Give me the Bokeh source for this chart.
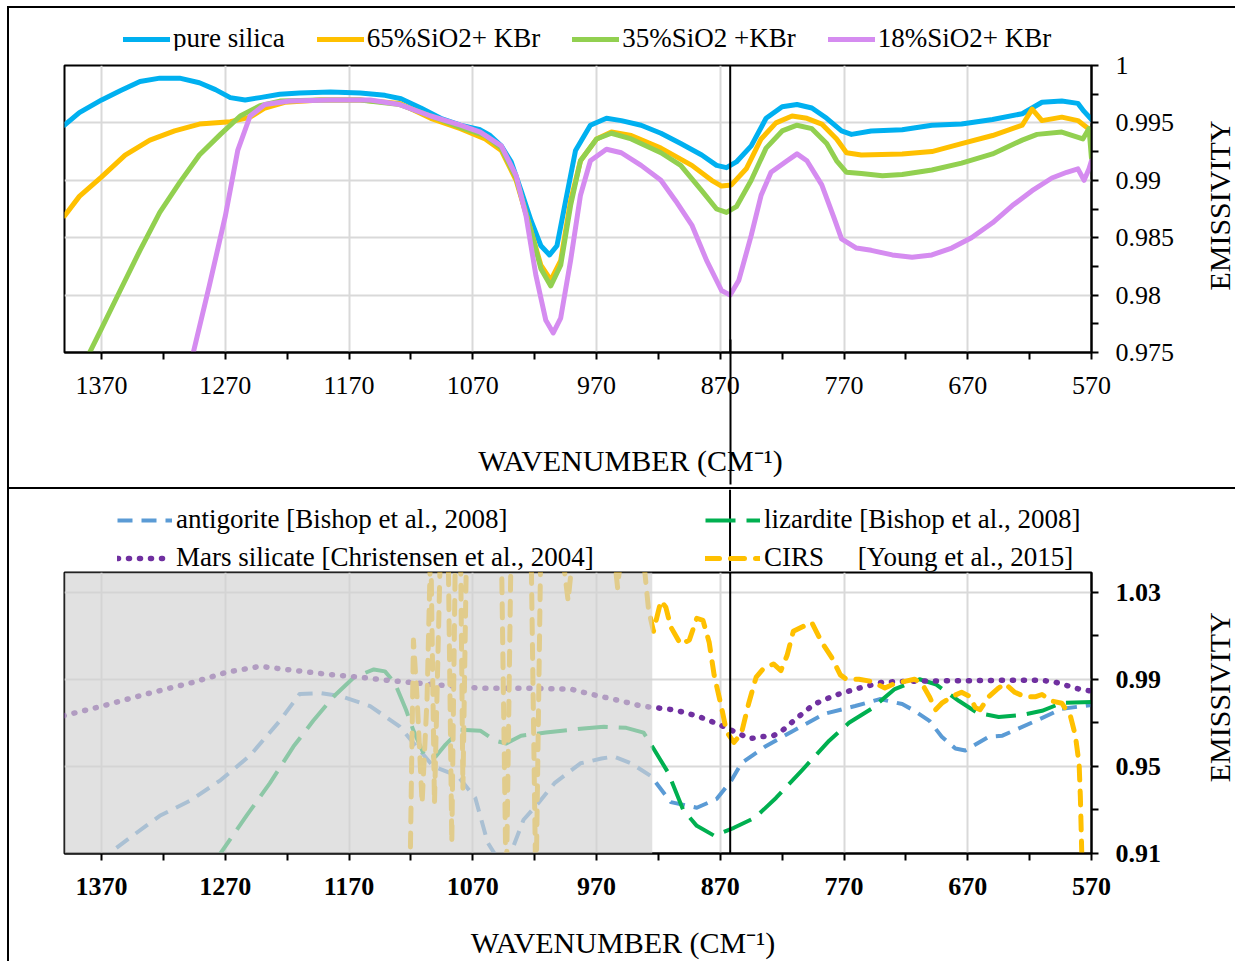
from bokeh.plotting import figure
from bokeh.models import (Range1d, FixedTicker, CustomJSTickFormatter, Legend, LegendItem,
                          Span, BoxAnnotation, LinearAxis, Label)
from bokeh.layouts import column, row
from bokeh.embed import file_html
from bokeh.resources import INLINE

FONT = "Liberation Serif"

# ---------------- axes / ticks ----------------
x_ticks = [1370, 1270, 1170, 1070, 970, 870, 770, 670, 570]
x_minor = [1320, 1220, 1120, 1020, 920, 820, 720, 620]
top_y_ticks = [0.975, 0.98, 0.985, 0.99, 0.995, 1.0]
top_y_minor = [0.9775, 0.9825, 0.9875, 0.9925, 0.9975]
bot_y_ticks = [0.91, 0.95, 0.99, 1.03]
bot_y_minor = [0.93, 0.97, 1.01]
X_START, X_END = 1400, 570
marker_wn = 862
shade_edge_wn = 925

# ---------------- top panel data ----------------
silica_wn = [1400,1388,1370,1355,1339,1323,1307,1291,1278,1266,1254,1242,1226,1210,1185,1161,1141,1128,1112,1096,
             1080,1064,1056,1047,1039,1031,1023,1015,1008,1002,995,987,975,962,950,934,918,902,885,873,
             865,857,845,833,820,808,796,784,772,764,748,723,699,675,650,626,610,594,581,576,570]
silica_em = [0.9948,0.9959,0.9970,0.9978,0.9986,0.9989,0.9989,0.9985,0.9979,0.9972,0.9970,0.9972,0.9975,0.9976,0.9977,
             0.9976,0.9974,0.9971,0.9963,0.9954,0.9948,0.9944,0.9939,0.9930,0.9916,0.9891,0.9865,0.9843,0.9835,0.9843,
             0.9882,0.9926,0.9948,0.9954,0.9952,0.9948,0.9941,0.9932,0.9922,0.9913,0.9911,0.9916,0.9930,0.9954,0.9964,
             0.9966,0.9963,0.9954,0.9943,0.9940,0.9943,0.9944,0.9948,0.9949,0.9953,0.9958,0.9968,0.9969,0.9967,0.9960,0.9953]

s65_wn = [1400,1388,1370,1351,1331,1311,1291,1266,1250,1238,1222,1193,1161,1129,1104,1080,1060,1047,1035,1023,
          1015,1007,999,991,983,970,958,942,918,893,877,869,861,849,837,825,812,800,788,776,
          768,756,723,699,675,650,626,618,610,594,581,570]
s65_em = [0.9869,0.9886,0.9903,0.9922,0.9935,0.9943,0.9949,0.9951,0.9955,0.9963,0.9968,0.9970,0.9970,0.9967,0.9954,
          0.9945,0.9936,0.9926,0.9900,0.9856,0.9826,0.9813,0.9830,0.9882,0.9917,0.9936,0.9942,0.9939,0.9928,0.9913,
          0.9900,0.9895,0.9896,0.9910,0.9936,0.9950,0.9956,0.9954,0.9949,0.9936,0.9924,0.9922,0.9923,0.9925,0.9932,
          0.9939,0.9948,0.9962,0.9952,0.9955,0.9952,0.9943]

s35_wn = [1382,1370,1355,1339,1323,1307,1291,1274,1258,1242,1226,1193,1161,1129,1104,1080,1060,1047,1035,1023,
          1015,1007,999,991,983,970,958,942,918,902,885,873,865,857,845,833,820,808,796,784,
          776,768,756,739,723,699,675,650,626,614,594,577,572,570]
s35_em = [0.9745,0.9771,0.9804,0.9839,0.9872,0.9898,0.9922,0.9940,0.9956,0.9965,0.9969,0.9970,0.9970,0.9966,0.9956,
          0.9946,0.9939,0.9928,0.9902,0.9856,0.9823,0.9808,0.9826,0.9878,0.9917,0.9936,0.9941,0.9936,0.9924,0.9913,
          0.9891,0.9875,0.9872,0.9877,0.9900,0.9928,0.9943,0.9948,0.9945,0.9932,0.9917,0.9907,0.9906,0.9904,0.9905,
          0.9909,0.9915,0.9923,0.9935,0.9940,0.9942,0.9936,0.9945,0.9919]

s18_wn = [1297,1283,1270,1260,1250,1238,1218,1185,1153,1129,1104,1080,1064,1047,1035,1027,1019,1011,1005,999,
          991,983,975,962,950,934,918,906,893,881,869,862,855,845,837,829,816,808,800,788,
          778,772,760,748,731,715,699,683,667,650,634,618,602,590,581,576,572,570]
s18_em = [0.9745,0.9808,0.9869,0.9926,0.9956,0.9966,0.9969,0.9970,0.9970,0.9966,0.9956,0.9948,0.9942,0.9930,0.9904,
          0.9869,0.9817,0.9778,0.9767,0.9780,0.9830,0.9887,0.9917,0.9927,0.9924,0.9913,0.9900,0.9882,0.9861,0.9830,
          0.9804,0.9800,0.9813,0.9852,0.9887,0.9907,0.9917,0.9923,0.9917,0.9896,0.9867,0.9849,0.9841,0.9839,0.9835,
          0.9833,0.9835,0.9841,0.9850,0.9863,0.9878,0.9891,0.9902,0.9907,0.9910,0.9900,0.9910,0.9917]

top_labels = ["pure silica", "65%SiO2+ KBr", "35%SiO2 +KBr", "18%SiO2+ KBr"]
top_colors = ["#00B0F0", "#FFC000", "#92D050", "#D58CF0"]

# ---------------- bottom panel data ----------------
ant_wn = [1372,1364,1347,1323,1299,1274,1250,1226,1210,1193,1177,1153,1129,1102,1082,1068,1058,1047,1037,1029,
          1017,1004,983,966,956,942,926,910,889,873,861,853,834,812,786,761,741,723,713,701,
          691,680,672,653,642,615,594,570]
ant_em = [0.905,0.91,0.9173,0.9273,0.9341,0.9436,0.955,0.9709,0.9832,0.9836,0.9823,0.9777,0.9682,0.95,0.9455,
          0.9355,0.915,0.905,0.9136,0.9255,0.9332,0.9423,0.9514,0.9536,0.9545,0.9514,0.9455,0.9336,0.931,0.935,
          0.9436,0.9514,0.959,0.966,0.9741,0.9777,0.9809,0.9786,0.9755,0.9709,0.9636,0.9582,0.9573,0.9636,0.9641,
          0.9709,0.9764,0.9782]

liz_wn = [1278,1274,1253,1234,1215,1199,1183,1166,1150,1141,1133,1124,1118,1108,1100,1092,1080,1064,1052,1043,
          1031,1011,983,964,946,932,923,912,900,889,875,859,842,825,804,782,766,748,729,709,
          696,677,662,645,626,610,594,570]
liz_em = [0.905,0.91,0.9273,0.9423,0.9591,0.9709,0.9818,0.9909,0.9945,0.9936,0.9882,0.976,0.9664,0.9536,0.9545,
          0.96,0.9668,0.9664,0.9618,0.9605,0.9641,0.9655,0.9673,0.9682,0.9677,0.9655,0.9573,0.947,0.93,0.9227,
          0.9182,0.9218,0.9264,0.9355,0.9482,0.9618,0.97,0.9764,0.9855,0.99,0.9877,0.98,0.9745,0.9727,0.9736,
          0.9755,0.9791,0.9795]

mars_wn = [1401,1372,1334,1296,1269,1242,1215,1188,1161,1139,1096,1064,1031,991,975,950,934,907,889,872,
           855,846,837,827,820,807,794,777,758,739,718,642,610,599,588,580,570]
mars_em = [0.9732,0.9773,0.9832,0.9886,0.9932,0.9959,0.9941,0.9923,0.9909,0.9895,0.9873,0.9859,0.9859,0.9855,0.9832,
           0.9800,0.9777,0.9759,0.9732,0.9695,0.9650,0.9627,0.9636,0.9641,0.9664,0.9727,0.9786,0.9827,0.9859,0.9886,
           0.9891,0.9895,0.9895,0.9886,0.9868,0.9855,0.9845]

cirs_wn = [1121,1118,1115,1111,1107,1104,1101,1096,1090,1087,1084,1080,1078,1075,1047,1043,1039,1023,1019,1015,
           999,993,988,957,953,949,932,928,924,918,914,910,902,895,889,884,879,875,869,865,
           859,853,847,841,835,827,821,816,811,804,796,788,780,773,768,758,748,737,729,721,
           713,707,701,696,691,683,675,668,664,660,653,645,640,632,624,615,610,602,594,587,
           583,580,579,577]
cirs_em = [0.89,1.008,0.981,0.933,0.981,1.054,0.933,1.054,1.054,0.915,1.054,1.054,0.94,1.054,1.054,
           0.89,1.054,1.054,0.89,1.054,1.054,1.026,1.054,1.054,1.032,1.054,1.045,1.022,1.012,1.026,
           1.023,1.014,1.006,1.008,1.018,1.017,1.007,0.992,0.977,0.966,0.961,0.965,0.979,0.991,0.995,
           0.997,0.994,1.001,1.012,1.014,1.016,1.007,1.000,0.992,0.990,0.990,0.989,0.986,0.988,0.989,
           0.990,0.988,0.982,0.976,0.979,0.982,0.984,0.982,0.977,0.976,0.982,0.986,0.988,0.984,0.982,
           0.982,0.983,0.980,0.979,0.973,0.964,0.951,0.936,0.89]

bot_labels = ["antigorite [Bishop et al., 2008]", "lizardite [Bishop et al., 2008]",
              "Mars silicate [Christensen et al., 2004]", "CIRS" + "\u00a0" * 5 + "[Young et al., 2015]"]
bot_colors = ["#5B9BD5", "#00B050", "#7030A0", "#FFC000"]

X_LABEL = "WAVENUMBER (CM\u207b\u00b9)"
Y_LABEL = "EMISSIVITY"

# ---------------- layout geometry ----------------
W = 1228            # full strip width
LAB_W = 45          # width of the strip carrying the rotated y-axis title
PLOT_W = W - LAB_W
BORDER_L, BORDER_R_PLOT = 55, 101
FRAME_W = W - 2 - BORDER_L - (LAB_W + BORDER_R_PLOT)   # plot frame width in px
STRIP_X_END = X_END - (LAB_W + BORDER_R_PLOT) * (X_START - X_END) / FRAME_W
BORDER_TL = {"border-top": "2px solid black", "border-left": "2px solid black"}
BORDER_LEFT = {"border-left": "2px solid black"}

top_styles = [dict(line_color=c, line_width=5, line_join="round", line_cap="round") for c in top_colors]
bot_styles = [dict(line_color=bot_colors[0], line_width=4, line_dash="15 9", line_join="round"),
              dict(line_color=bot_colors[1], line_width=4, line_dash="30 11", line_join="round"),
              dict(line_color=bot_colors[2], line_width=5.5, line_dash="1 10", line_cap="round", line_join="round"),
              dict(line_color=bot_colors[3], line_width=5, line_dash="14 11", line_cap="round", line_join="round")]


def style(p, yt, ymt, bold, pad):
    p.outline_line_color = "black"
    p.outline_line_width = 2
    for ax in (p.xaxis[0], p.yaxis[0]):
        ax.axis_line_color = "black"
        ax.axis_line_width = 2
        ax.major_tick_line_color = "black"
        ax.major_tick_line_width = 2
        ax.minor_tick_line_color = "black"
        ax.minor_tick_line_width = 2
        ax.major_tick_in = 0
        ax.major_tick_out = 7
        ax.minor_tick_in = 0
        ax.minor_tick_out = 7
        ax.major_label_text_font = FONT
        ax.major_label_text_font_size = "26px"
        ax.major_label_text_color = "black"
        ax.major_label_text_font_style = "bold" if bold else "normal"
        ax.formatter = CustomJSTickFormatter(code="return tick.toString();")
    xa, ya = p.xaxis[0], p.yaxis[0]
    xa.ticker = FixedTicker(ticks=x_ticks, minor_ticks=x_minor)
    ya.ticker = FixedTicker(ticks=yt, minor_ticks=ymt)
    xa.major_label_standoff = 17
    ya.major_label_standoff = 17
    xa.axis_label = "\u00a0" * pad + X_LABEL
    xa.axis_label_text_font = FONT
    xa.axis_label_text_font_size = "30px"
    xa.axis_label_text_font_style = "normal"
    xa.axis_label_text_color = "black"
    p.xgrid.ticker = FixedTicker(ticks=x_ticks)
    p.ygrid.ticker = FixedTicker(ticks=yt)
    for g in (p.xgrid[0], p.ygrid[0]):
        g.grid_line_color = "#d9d9d9"
        g.grid_line_width = 2


def bare(width, height, x_range, y_range, **kw):
    f = figure(width=width, height=height, x_range=x_range, y_range=y_range,
               x_axis_location=None, y_axis_location=None, output_backend="svg",
               toolbar_location=None, min_border_top=0, min_border_bottom=0,
               outline_line_color=None, **kw)
    f.grid.visible = False
    return f


def legend_strip(height, series, styles, labels, groups):
    # strip without axes that carries the legend; its x scale lines up with the plot below
    f = bare(W, height, Range1d(X_START, STRIP_X_END), Range1d(10, 11),
             min_border_left=BORDER_L, min_border_right=0)
    rs = [f.line(wn, em, **st) for (wn, em), st in zip(series, styles)]
    for idx, loc, kw in groups:
        leg = Legend(items=[LegendItem(label=labels[i], renderers=[rs[i]]) for i in idx],
                     location=loc, padding=0, margin=0, border_line_color=None,
                     background_fill_alpha=0, label_text_font=FONT, label_text_font_size="27px",
                     label_text_color="black", glyph_height=20, **kw)
        f.add_layout(leg)
    return f


def title_strip(height, yfrac):
    # its frame is aligned with the neighbouring plot frame; yfrac is measured on that frame
    f = bare(LAB_W, height, Range1d(0, 1), Range1d(0, 1), min_border_left=0, min_border_right=0)
    f.add_layout(Label(x=0.64, y=yfrac, text=Y_LABEL, angle=90, angle_units="deg",
                       text_align="center", text_baseline="middle", text_font=FONT,
                       text_font_size="30px", text_color="black"))
    return f


# ================= TOP LEGEND STRIP =================
top_series = [(silica_wn, silica_em), (s65_wn, s65_em), (s35_wn, s35_em), (s18_wn, s18_em)]
f1 = legend_strip(44, top_series, top_styles, top_labels,
                  [([0, 1, 2, 3], (59, -2), dict(orientation="horizontal", spacing=32,
                                                 label_standoff=3, glyph_width=47))])
f1.styles = BORDER_TL

# ================= TOP PLOT =================
top = figure(width=PLOT_W, height=437, x_range=Range1d(X_START, X_END), y_range=Range1d(0.975, 1.0),
             y_axis_location="right", output_backend="svg", toolbar_location=None,
             min_border_left=BORDER_L, min_border_right=BORDER_R_PLOT, min_border_top=15,
             min_border_bottom=135, styles=BORDER_LEFT)
style(top, top_y_ticks, top_y_minor, False, 14)
top.xaxis[0].axis_label_standoff = 47
for (wn, em), st in zip(top_series, top_styles):
    top.line(wn, em, **st)
top.add_layout(Span(location=marker_wn, dimension="height", line_color="black", line_width=2))
# the marker line continued below the frame, drawn as the single long tick of an extra axis
top.add_layout(LinearAxis(ticker=FixedTicker(ticks=[marker_wn], minor_ticks=[]),
                          formatter=CustomJSTickFormatter(code="return '';"),
                          axis_line_color=None, major_tick_in=140, major_tick_out=5,
                          major_tick_line_color="black", major_tick_line_width=2,
                          minor_tick_line_color=None, major_label_standoff=0,
                          major_label_text_font_size="1px"), "below")
lab1 = title_strip(437, 0.512)

# ================= BOTTOM LEGEND STRIP =================
bot_series = [(ant_wn, ant_em), (liz_wn, liz_em), (mars_wn, mars_em), (cirs_wn, cirs_em)]
f3 = legend_strip(84, bot_series, bot_styles, bot_labels,
                  [([0, 2], (53, 0), dict(orientation="vertical", spacing=7, label_standoff=4, glyph_width=55)),
                   ([1, 3], (641, 0), dict(orientation="vertical", spacing=7, label_standoff=4, glyph_width=55))])
f3.styles = BORDER_TL
f3.add_layout(Span(location=marker_wn, dimension="height", line_color="black", line_width=2))

# ================= BOTTOM PLOT =================
bot = figure(width=PLOT_W, height=390, x_range=Range1d(X_START, X_END), y_range=Range1d(0.91, 1.039),
             y_axis_location="right", output_backend="svg", toolbar_location=None,
             min_border_left=BORDER_L, min_border_right=BORDER_R_PLOT, min_border_top=1,
             min_border_bottom=105, styles=BORDER_LEFT)
style(bot, bot_y_ticks, bot_y_minor, True, 12)
bot.xaxis[0].axis_label_standoff = 28
for (wn, em), st in zip(bot_series, bot_styles):
    bot.line(wn, em, **st)
bot.add_layout(BoxAnnotation(right=shade_edge_wn, fill_color="#d2d2d2", fill_alpha=0.667, line_color=None))
bot.add_layout(Span(location=marker_wn, dimension="height", line_color="black", line_width=2))
lab2 = title_strip(390, 0.556)

page = column(f1, row(top, lab1, spacing=0), f3, row(bot, lab2, spacing=0),
              spacing=0, margin=(6, 0, 0, 7))
open("out.html", "w").write(file_html(page, INLINE))
